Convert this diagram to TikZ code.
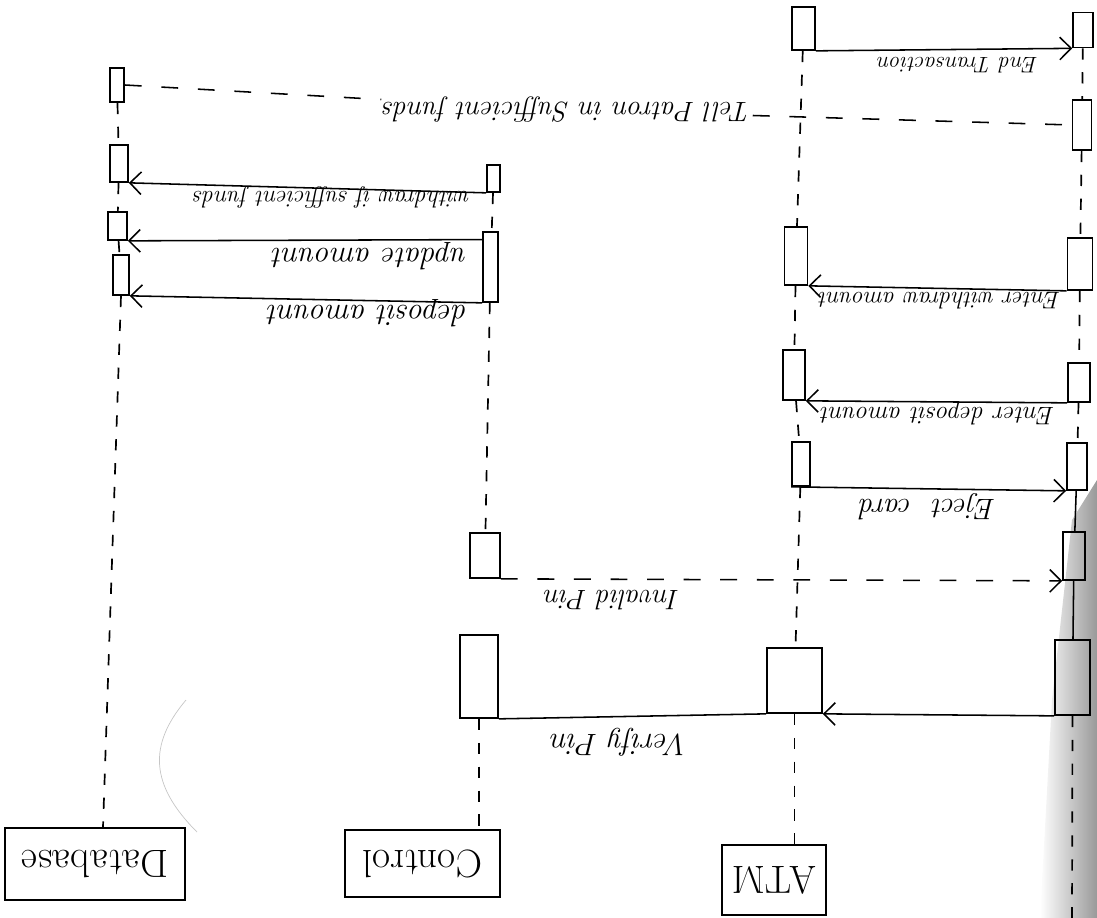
\documentclass[tikz,border=0pt]{standalone}
\usepackage{graphicx}
\usetikzlibrary{arrows.meta, calc}
\tikzset{
  act/.style args={#1/#2}{
    rectangle, draw, line width=1.2pt, inner sep=0pt,
    minimum width=#1cm, minimum height=#2cm,
  },
  hdr/.style args={#1/#2}{
    rectangle, draw, line width=1.4pt, inner sep=0pt,
    minimum width=#1cm, minimum height=#2cm,
    font=\fontsize{28pt}{28pt}\selectfont,
  },
  lbl/.style={
    rotate=180, inner sep=1pt,
    font=\fontsize{#1}{#1}\selectfont\itshape,
  },
  lbl/.default=18pt,
  arr/.style={
    -{Straight Barb[length=8pt,width=16pt]},
    line width=1.1pt,
  },
  msg/.style={line width=1.1pt},
  dsh/.style={dash pattern=on 12pt off 14pt},
  life/.style={line width=1.2pt, dash pattern=on 8pt off 9pt},
}

\begin{document}
\begin{tikzpicture}[x=0.025cm,y=-0.025cm]
    \useasboundingbox (0,0) rectangle (1097,918);
    \shade[left color=white,right color=black!40]
      (1040,918) -- (1052,700) -- (1072,520) -- (1097,480) -- (1097,918) -- cycle;
    \draw[gray!45,line width=0.5pt] (186,700) .. controls (148,745) and (150,785) .. (197,832);

    % headers
    \node[hdr=4.5/1.8]     (dbH)  at (95,864)      {\rotatebox{180}{Database}};
    \node[hdr=3.875/1.675] (conH) at (422.5,863.5) {\rotatebox{180}{Control}};
    \node[hdr=2.6/1.75]    (atmH) at (774,880)     {\rotatebox{180}{ATM}};

    % customer
    \node[act=0.5/0.875]   (c1) at (1083,30)    {};
    \node[act=0.475/1.25]  (c2) at (1082,125)   {};
    \node[act=0.625/1.3]   (c3) at (1080,264)   {};
    \node[act=0.55/0.975]  (c4) at (1079,382.5) {};
    \node[act=0.5/1.175]   (c5) at (1077,466.5) {};
    \node[act=0.55/1.2]    (c6) at (1074,556)   {};
    \node[act=0.875/1.875] (c7) at (1072.5,677.5) {};
    \coordinate (cEnd) at (1072,918);

    % ATM
    \node[act=0.575/1.075] (a1) at (803.5,28.5) {};
    \node[act=0.575/1.45]  (a2) at (796,256)    {};
    \node[act=0.55/1.25]   (a3) at (794,375)    {};
    \node[act=0.45/1.1]    (a4) at (801,464)    {};
    \node[act=1.375/1.625] (a5) at (794.5,680.5) {};

    % control
    \node[act=0.325/0.675] (k1) at (493.5,178.5) {};
    \node[act=0.375/1.75]  (k2) at (490.5,267)   {};
    \node[act=0.75/1.125]  (k3) at (485,555.5)   {};
    \node[act=0.95/2.075]  (k4) at (479,676.5)   {};

    % database
    \node[act=0.35/0.85]   (d1) at (117,85)     {};
    \node[act=0.45/0.925]  (d2) at (119,163.5)  {};
    \node[act=0.475/0.7]   (d3) at (117.5,226)  {};
    \node[act=0.4/1.0]     (d4) at (121,275)    {};

    % lifelines
    \draw[life] (c1) -- (c2); \draw[life] (c2) -- (c3);
    \draw[life] (c3) -- (c4); \draw[life] (c4) -- (c5);
    \draw[msg] (c5) -- (c6); \draw[msg] (c6) -- (c7);
    \draw[life] (c7.south) -- (cEnd);
    \draw[life] (a1) -- (a2); \draw[life] (a2) -- (a3);
    \draw[life] (a3) -- (a4); \draw[life] (a4) -- (a5);
    \draw[life] (a5.south) -- (a5.south |- atmH.north);
    \draw[life] (k1) -- (k2); \draw[life] (k2) -- (k3);
    \draw[life] (k4.south) -- (k4.south |- conH.north);
    \draw[life] (d1) -- (d2); \draw[life] (d2) -- (d3);
    \draw[life] (d3) -- (d4);
    \draw[life] (d4.south) -- ([xshift=0.2cm]dbH.north);

    % messages
    \node[lbl=16pt] (lEnd)  at (958,65)   {End Transaction};
    \node[lbl=20pt] (lTell) at (567,110)  {Tell Patron in Sufficient funds};
    \node[lbl=17pt] (lWd)   at (332,197)  {withdraw if sufficient funds};
    \node[lbl=22pt] (lUpd)  at (370,256)  {update amount};
    \node[lbl=22pt] (lDep)  at (368,313)  {deposit amount};
    \node[lbl=17pt] (lEw)   at (940,301)  {Enter withdraw amount};
    \node[lbl=18pt] (lEd)   at (938,414)  {Enter deposit amount};
    \node[lbl=21pt] (lEj)   at (928,507)  {Eject~~card};
    \node[lbl=20pt] (lInv)  at (612,600)  {Invalid Pin};
    \node[lbl=22pt] (lVer)  at (620,742)  {Verify Pin};

    \draw[arr] (a1.south east) -- (c1.south west);
    \draw[msg,dsh] (d1.east) -- (lTell) -- (c2.west);
    \draw[arr] (k1.south west) -- (d2.south east);
    \draw[arr] ([yshift=-6pt]k2.north west) -- (d3.south east);
    \draw[arr] (k2.south west) -- (d4.south east);
    \draw[arr] (c3.south west) -- (a2.south east);
    \draw[arr] (c4.south west) -- (a3.south east);
    \draw[arr] (a4.south west) -- (c5.south west);
    \draw[arr,dsh] (k3.south east) -- (c6.south west);
    \draw[arr] (c7.south west) -- (a5.south east);
    \draw[msg] (a5.south west) -- (k4.south east);
\end{tikzpicture}
\end{document}
